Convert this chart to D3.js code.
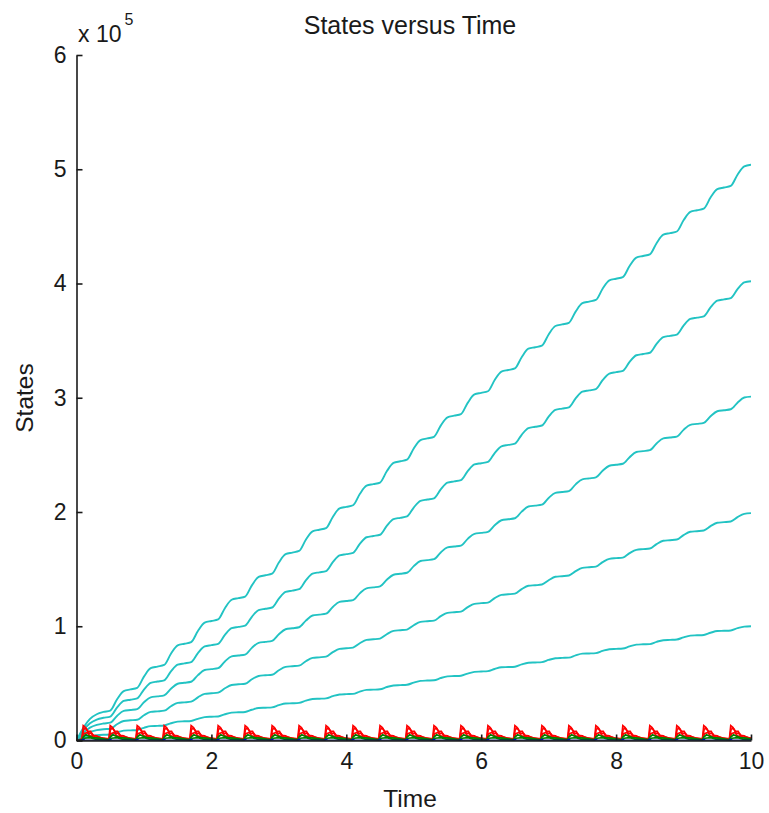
<!DOCTYPE html>
<meta charset="utf-8">
<style>
  body { margin: 0; background: #fff; }
  text { font-family: "Liberation Sans", Arial, sans-serif; fill: #1a1a1a; }
  .axis path, .axis line { fill: none; stroke: #1a1a1a; stroke-width: 1.6; }
  .axis text { font-size: 23px; }
  .line { fill: none; }
</style>
<body>
<script src="https://d3js.org/d3.v7.min.js"></script>
<script>

// sample spacing of the cyan states (time units), values in thousands
var timeStep = 0.1;

var cyan1 = [0, 2.2, 3.8, 4.6, 5.0,
  5.2, 7.1, 8.6, 8.9, 9.2, 11.1, 12.6, 12.8, 13.1, 15.1, 16.5, 16.8, 17.1, 19.0, 20.5, 20.8,
  21.0, 23.0, 24.4, 24.7, 25.0, 26.9, 28.4, 28.7, 29.0, 30.9, 32.4, 32.6, 32.9, 34.9, 36.3, 36.6,
  36.9, 38.8, 40.3, 40.6, 40.8, 42.8, 44.3, 44.5, 44.8, 46.8, 48.2, 48.5, 48.8, 50.7, 52.2, 52.5,
  52.7, 54.7, 56.1, 56.4, 56.7, 58.6, 60.1, 60.4, 60.7, 62.6, 64.1, 64.3, 64.6, 66.6, 68.0, 68.3,
  68.6, 70.5, 72.0, 72.3, 72.5, 74.5, 76.0, 76.2, 76.5, 78.4, 79.9, 80.2, 80.5, 82.4, 83.9, 84.2,
  84.4, 86.4, 87.8, 88.1, 88.4, 90.3, 91.8, 92.1, 92.4, 94.3, 95.8, 96.0, 96.3, 98.3, 99.7, 100.0];

var cyan2 = [0, 4.3, 7.5, 9.1, 9.9,
  10.3, 14.2, 17.1, 17.7, 18.2, 22.1, 25.0, 25.5, 26.1, 30.0, 32.9, 33.4, 34.0, 37.8, 40.8, 41.3,
  41.9, 45.7, 48.6, 49.2, 49.7, 53.6, 56.5, 57.1, 57.6, 61.5, 64.4, 65.0, 65.5, 69.4, 72.3, 72.8,
  73.4, 77.3, 80.2, 80.7, 81.3, 85.1, 88.1, 88.6, 89.2, 93.0, 95.9, 96.5, 97.1, 100.9, 103.8, 104.4,
  104.9, 108.8, 111.7, 112.3, 112.8, 116.7, 119.6, 120.2, 120.7, 124.6, 127.5, 128.0, 128.6, 132.5, 135.4, 135.9,
  136.5, 140.3, 143.3, 143.8, 144.4, 148.2, 151.1, 151.7, 152.2, 156.1, 159.0, 159.6, 160.1, 164.0, 166.9, 167.5,
  168.0, 171.9, 174.8, 175.3, 175.9, 179.8, 182.7, 183.2, 183.8, 187.6, 190.6, 191.1, 191.7, 195.5, 198.4, 199.0];

var cyan3 = [0, 6.6, 11.3, 13.7, 14.9,
  15.6, 21.5, 25.9, 26.7, 27.5, 33.4, 37.8, 38.6, 39.5, 45.3, 49.7, 50.6, 51.4, 57.2, 61.7, 62.5,
  63.3, 69.2, 73.6, 74.4, 75.2, 81.1, 85.5, 86.3, 87.2, 93.0, 97.4, 98.3, 99.1, 104.9, 109.4, 110.2,
  111.0, 116.9, 121.3, 122.1, 122.9, 128.8, 133.2, 134.0, 134.9, 140.7, 145.1, 146.0, 146.8, 152.6, 157.1, 157.9,
  158.7, 164.6, 169.0, 169.8, 170.6, 176.5, 180.9, 181.7, 182.6, 188.4, 192.8, 193.7, 194.5, 200.3, 204.8, 205.6,
  206.4, 212.3, 216.7, 217.5, 218.3, 224.2, 228.6, 229.4, 230.3, 236.1, 240.5, 241.4, 242.2, 248.0, 252.5, 253.3,
  254.1, 260.0, 264.4, 265.2, 266.0, 271.9, 276.3, 277.1, 278.0, 283.8, 288.2, 289.1, 289.9, 295.7, 300.2, 301.0];

var cyan4 = [0, 8.8, 15.1, 18.3, 19.9,
  20.9, 28.7, 34.6, 35.7, 36.8, 44.6, 50.5, 51.6, 52.7, 60.5, 66.4, 67.5, 68.6, 76.5, 82.3, 83.5,
  84.6, 92.4, 98.3, 99.4, 100.5, 108.3, 114.2, 115.3, 116.4, 124.2, 130.1, 131.2, 132.4, 140.2, 146.1, 147.2,
  148.3, 156.1, 162.0, 163.1, 164.2, 172.0, 177.9, 179.0, 180.1, 187.9, 193.8, 194.9, 196.1, 203.9, 209.8, 210.9,
  212.0, 219.8, 225.7, 226.8, 227.9, 235.7, 241.6, 242.7, 243.8, 251.6, 257.5, 258.7, 259.8, 267.6, 273.5, 274.6,
  275.7, 283.5, 289.4, 290.5, 291.6, 299.4, 305.3, 306.4, 307.6, 315.4, 321.2, 322.4, 323.5, 331.3, 337.2, 338.3,
  339.4, 347.2, 353.1, 354.2, 355.3, 363.1, 369.0, 370.1, 371.3, 379.1, 385.0, 386.1, 387.2, 395.0, 400.9, 402.0];

var cyan5 = [0, 11.0, 19.0, 23.0, 25.0,
  26.2, 35.9, 43.3, 44.7, 46.1, 55.9, 63.3, 64.7, 66.1, 75.9, 83.3, 84.7, 86.1, 95.8, 103.2, 104.6,
  106.0, 115.8, 123.2, 124.6, 126.0, 135.8, 143.2, 144.6, 146.0, 155.8, 163.1, 164.5, 165.9, 175.7, 183.1, 184.5,
  185.9, 195.7, 203.1, 204.5, 205.9, 215.7, 223.0, 224.4, 225.8, 235.6, 243.0, 244.4, 245.8, 255.6, 263.0, 264.4,
  265.8, 275.6, 282.9, 284.3, 285.7, 295.5, 302.9, 304.3, 305.7, 315.5, 322.9, 324.3, 325.7, 335.5, 342.9, 344.2,
  345.6, 355.4, 362.8, 364.2, 365.6, 375.4, 382.8, 384.2, 385.6, 395.4, 402.8, 404.2, 405.6, 415.3, 422.7, 424.1,
  425.5, 435.3, 442.7, 444.1, 445.5, 455.3, 462.7, 464.1, 465.5, 475.2, 482.6, 484.0, 485.4, 495.2, 502.6, 504.0];

// the pulsed states repeat the same shape every cycle: start times + one cycle
var pulseStarts = [0.08, 0.48, 0.88, 1.28, 1.68, 2.08, 2.48, 2.88, 3.28, 3.68, 4.08, 4.48, 4.88,
  5.28, 5.68, 6.08, 6.48, 6.88, 7.28, 7.68, 8.08, 8.48, 8.88, 9.28, 9.68];

// [time offset in cycle, value in thousands]
var redA = [[0, 1.5], [0.02, 13], [0.05, 11.5], [0.09, 8], [0.13, 8], [0.16, 4.5], [0.22, 4], [0.27, 2.5], [0.4, 1.5]];
var redB = [[0, 1], [0.025, 10], [0.06, 10.5], [0.1, 6.5], [0.15, 6], [0.19, 3], [0.26, 3], [0.3, 2], [0.4, 1]];
var redC = [[0, 0.6], [0.03, 6], [0.08, 7], [0.12, 4], [0.2, 2.5], [0.3, 1.5], [0.4, 0.6]];
var greenA = [[0, 0.5], [0.02, 3], [0.06, 5], [0.1, 4], [0.16, 2.5], [0.25, 2], [0.4, 0.5]];
var greenB = [[0, 0.2], [0.04, 2], [0.12, 2.5], [0.2, 1.2], [0.4, 0.2]];
var blueA = [[0, 0], [0.02, 0.8], [0.04, 0], [0.4, 0]];

var xTicks = [0, 2, 4, 6, 8, 10];
var yTicks = [0, 100, 200, 300, 400, 500, 600];

var width = 769, height = 813;
var x = d3.scaleLinear().domain([0, 10]).range([76.5, 751]);
var y = d3.scaleLinear().domain([0, 600]).range([740.5, 55]);

var svg = d3.select("body").append("svg")
  .attr("width", width)
  .attr("height", height);

svg.append("clipPath").attr("id", "plotclip")
  .append("rect")
  .attr("x", x(0)).attr("y", y(600) - 5)
  .attr("width", x(10) - x(0)).attr("height", y(0) - y(600) + 5);

function sampled(vals) {
  return vals.map(function(v, i) { return [i * timeStep, v]; });
}

function pulsed(shape) {
  var pts = [[0, 0]];
  pulseStarts.forEach(function(s) {
    shape.forEach(function(p) { pts.push([s + p[0], p[1]]); });
  });
  return pts;
}

var line = d3.line()
  .x(function(d) { return x(d[0]); })
  .y(function(d) { return y(d[1]); });

var smooth = d3.line()
  .curve(d3.curveMonotoneX)
  .x(function(d) { return x(d[0]); })
  .y(function(d) { return y(d[1]); });

var plot = svg.append("g").attr("clip-path", "url(#plotclip)");

[cyan1, cyan2, cyan3, cyan4, cyan5].forEach(function(c) {
  plot.append("path").attr("class", "line")
    .attr("d", smooth(sampled(c)))
    .attr("stroke", "#22c3c3")
    .attr("stroke-width", 1.9);
});

[[redA, "#ff0000"], [redB, "#ff0000"], [redC, "#ff0000"],
 [greenA, "#008000"], [greenB, "#008000"], [blueA, "#0000ff"]].forEach(function(s) {
  plot.append("path").attr("class", "line")
    .attr("d", line(pulsed(s[0])))
    .attr("stroke", s[1])
    .attr("stroke-width", 1.7);
});

plot.append("path").attr("class", "line")
  .attr("d", line([[0, 0], [10, 0]]))
  .attr("stroke", "#000")
  .attr("stroke-width", 1.6);

// axes (box off, ticks pointing in)
svg.append("g").attr("class", "axis")
  .attr("transform", "translate(0," + y(0) + ")")
  .call(d3.axisBottom(x).tickValues(xTicks).tickSizeInner(-6).tickSizeOuter(0).tickPadding(12)
    .tickFormat(d3.format("d")));

svg.append("g").attr("class", "axis")
  .attr("transform", "translate(" + x(0) + ",0)")
  .call(d3.axisLeft(y).tickValues(yTicks).tickSizeInner(-6).tickSizeOuter(0).tickPadding(10)
    .tickFormat(function(d) { return d / 100; }));

svg.selectAll(".axis text").attr("fill", "#1a1a1a");

// exponent label
var expo = svg.append("text").attr("x", 78).attr("y", 42).style("font-size", "23px");
expo.append("tspan").text("x 10");
expo.append("tspan").attr("dx", 3).attr("dy", -17).style("font-size", "16px").text("5");

svg.append("text")
  .attr("x", 410).attr("y", 34)
  .attr("text-anchor", "middle")
  .style("font-size", "25px")
  .text("States versus Time");

svg.append("text")
  .attr("x", 410).attr("y", 807)
  .attr("text-anchor", "middle")
  .style("font-size", "24.5px")
  .text("Time");

svg.append("text")
  .attr("transform", "translate(33,398) rotate(-90)")
  .attr("text-anchor", "middle")
  .style("font-size", "24.5px")
  .text("States");

</script>
</body>
